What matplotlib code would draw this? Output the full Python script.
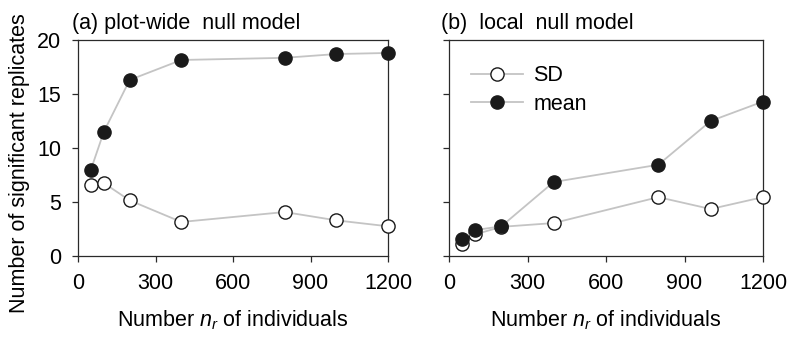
import matplotlib
matplotlib.use("Agg")
import matplotlib.pyplot as plt

plt.rcParams['font.family'] = ['Liberation Sans', 'DejaVu Sans']
plt.rcParams['mathtext.fontset'] = 'custom'
plt.rcParams['mathtext.it'] = 'Liberation Sans:italic'
plt.rcParams['mathtext.rm'] = 'Liberation Sans'

n_ind = [50, 100, 200, 400, 800, 1000, 1200]
a_mean = [8.0, 11.5, 16.3, 18.15, 18.35, 18.7, 18.8]
a_sd = [6.6, 6.75, 5.15, 3.15, 4.07, 3.3, 2.75]
b_mean = [1.6, 2.4, 2.75, 6.85, 8.45, 12.5, 14.3]
b_sd = [1.1, 2.0, 2.7, 3.05, 5.45, 4.35, 5.45]
xticks = [0, 300, 600, 900, 1200]
yticks = [0, 5, 10, 15, 20]
titles = ["(a) plot-wide  null model", "(b)  local  null model"]

W, H = 788, 338
fig = plt.figure(figsize=(W/100, H/100), dpi=100)
ax1 = fig.add_axes([78/W, 1-256/H, (388-78)/W, (256-40)/H])
ax2 = fig.add_axes([449/W, 1-256/H, (763-449)/W, (256-40)/H])

line_c = '#c4c4c4'
spine_c = '#2a2a2a'
fs = 15.5
for ax, mean, sd, title, tx in [(ax1, a_mean, a_sd, titles[0], -0.02), (ax2, b_mean, b_sd, titles[1], -0.027)]:
    ax.plot(n_ind, sd, '-o', color=line_c, lw=1.3, ms=9.5, mfc='white', mec='#1a1a1a', mew=1.0, label='SD', zorder=3)
    ax.plot(n_ind, mean, '-o', color=line_c, lw=1.3, ms=9.5, mfc='#1a1a1a', mec='#1a1a1a', mew=1.0, label='mean', zorder=3)
    ax.set_xlim(0, 1200)
    ax.set_ylim(0, 20)
    ax.set_xticks(xticks)
    ax.set_yticks(yticks)
    for s in ax.spines.values():
        s.set_linewidth(0.9)
        s.set_color(spine_c)
    ax.tick_params(direction='out', length=4, width=0.9, color=spine_c, labelsize=fs, pad=8)
    ax.text(tx, 1.03, title, transform=ax.transAxes, fontsize=fs, ha='left', va='bottom')
    for l in ax.lines:
        l.set_clip_on(False)
    bb = ax.get_position()
    fig.text((bb.x0 + bb.x1) / 2, 1 - 326/H, r'Number $n_r$ of individuals', fontsize=fs,
             ha='center', va='baseline')

fig.text(20/W, 1 - 163.5/H, 'Number of significant replicates', fontsize=fs,
         rotation=90, ha='center', va='center')
ax2.set_yticklabels([])
leg = ax2.legend(loc='upper left', bbox_to_anchor=(0.070, 0.884), frameon=False, fontsize=fs,
                 handlelength=2.4, borderaxespad=0, borderpad=0, labelspacing=0.35, handletextpad=0.5)

fig.savefig('out.png', dpi=100)
